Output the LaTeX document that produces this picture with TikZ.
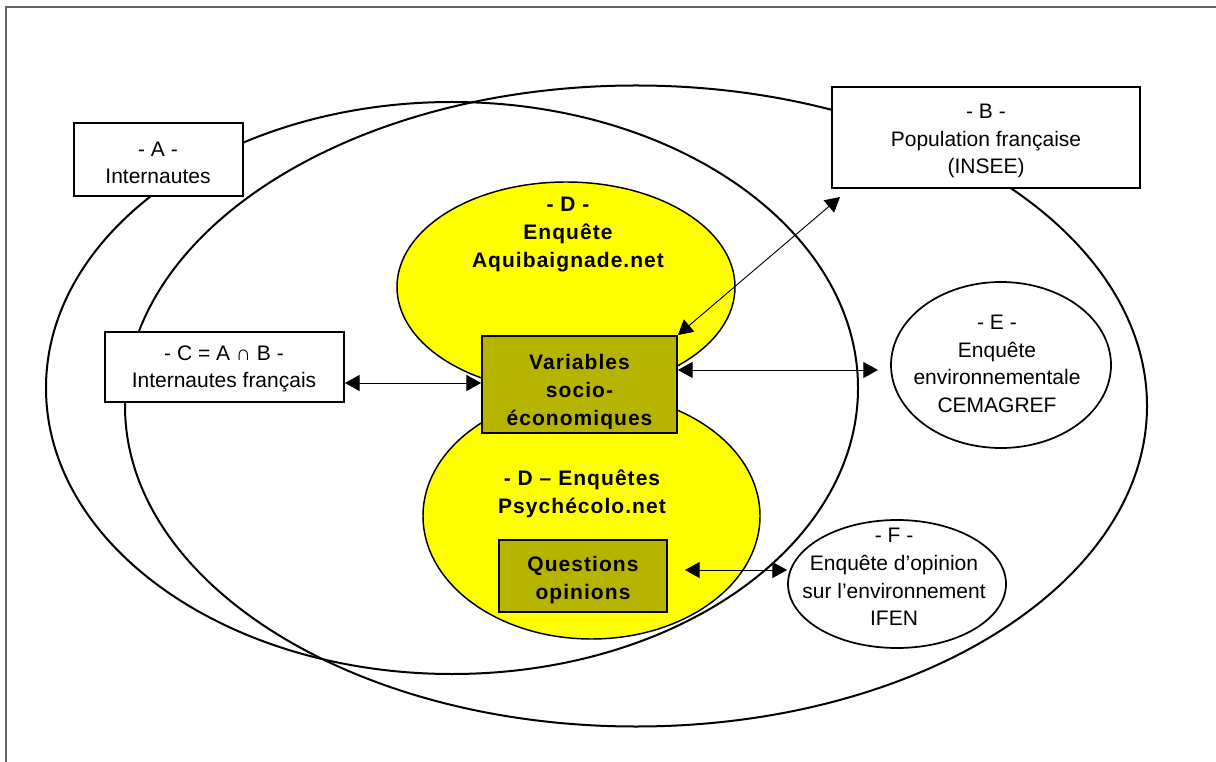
\documentclass[tikz,border=0pt]{standalone}
\usepackage{fontspec}
\setmainfont{Liberation Sans}
\newfontfamily\dfont[LetterSpace=5]{Liberation Sans}
\usetikzlibrary{shapes.geometric,arrows.meta}
\definecolor{varolive}{RGB}{183,180,0}
\definecolor{framegray}{RGB}{100,100,100}
\definecolor{dyellow}{RGB}{255,255,0}
\begin{document}
\begin{tikzpicture}[x=0.75pt,y=-0.75pt,
  txt/.style={font=\fontsize{15.75pt}{20.8pt}\selectfont, align=center, inner sep=0pt},
  btxt/.style={font=\fontsize{15.75pt}{21pt}\selectfont\dfont\bfseries, align=center, inner sep=0pt},
  bigell/.style={draw, ellipse, line width=1.5pt, inner sep=0pt},
  yell/.style={draw, ellipse, fill=dyellow, line width=1.1pt, inner sep=0pt},
  wbox/.style={draw, rectangle, fill=white, line width=1.4pt, inner sep=0pt},
  obox/.style={draw, rectangle, fill=varolive, line width=1.4pt, inner sep=0pt},
  well/.style={draw, ellipse, fill=white, line width=1.3pt, inner sep=0pt},
  biarrow/.style={{Triangle[length=11pt,width=12pt]}-{Triangle[length=11pt,width=12pt]}, line width=0.7pt},
]
\useasboundingbox (0,0) rectangle (1216,762);
\fill[white] (0,0) rectangle (1216,762);
% frame
\coordinate (fr1) at (1216,7);
\coordinate (fr2) at (6,7);
\coordinate (fr3) at (6,762);
\draw[framegray, line width=1.2pt] (fr1) -- (fr2) -- (fr3);

% big ellipses
\node[bigell, minimum width=609pt, minimum height=429pt] (ellA) at (452,388) {};
\node[bigell, minimum width=766.5pt, minimum height=480.75pt] (ellB) at (636,406) {};

% yellow ellipses
\node[yell, minimum width=253.5pt, minimum height=157.5pt] (D1) at (566,287) {};
\node[yell, minimum width=252.75pt, minimum height=184.5pt] (D2) at (591.5,516) {};
\node[btxt] (D1t) at (568,235) {- D -\\Enquête\\Aquibaignade.net};
\node[btxt] (D2t) at (582,494) {- D – Enquêtes\\Psychécolo.net};

% olive boxes
\node[obox, minimum width=146.25pt, minimum height=72.75pt] (var) at (579.5,384.5) {};
\begin{scope}
\clip (482,336) rectangle (677,428.5);
\node[btxt] (vart) at (579.5,392) {Variables\\socio-\\économiques};
\end{scope}
\node[obox, minimum width=126pt, minimum height=54pt] (Q) at (583,576) {};
\node[btxt] (Qt) at (583,580) {Questions\\opinions};

% white boxes
\node[wbox, minimum width=126.75pt, minimum height=54.75pt] (A) at (158.5,159.5) {};
\node[txt] (At) at (158,163) {- A -\\Internautes};
\node[wbox, minimum width=231pt, minimum height=75.75pt] (B) at (986,137.5) {};
\node[txt] (Bt) at (986,141) {- B -\\Population française\\(INSEE)};
\node[wbox, minimum width=179.25pt, minimum height=52.5pt] (C) at (224.5,367) {};
\node[txt] (Ct) at (224,369) {- C = A ∩ B -\\Internautes français};

% white ellipses
\node[well, minimum width=165pt, minimum height=124.5pt] (E) at (1001,365) {};
\node[txt] (Et) at (997,364) {- E -\\Enquête\\environnementale\\CEMAGREF};
\node[well, minimum width=163.5pt, minimum height=96pt] (F) at (897,584) {};
\node[txt] (Ft) at (894,577) {- F -\\Enquête d’opinion\\sur l’environnement\\IFEN};

% connectors
\coordinate (cv) at (0,383);
\draw[biarrow] (C.east |- cv) -- (var.west |- cv);
\coordinate (ve) at (878,370);
\draw[biarrow] (var.east |- ve) -- (ve);
\coordinate (bv) at (840,197);
\draw[biarrow] (var.north east) -- (bv);
\coordinate (qf) at (685,570);
\draw[biarrow] (qf) -- (F.west |- qf);
\end{tikzpicture}
\end{document}
